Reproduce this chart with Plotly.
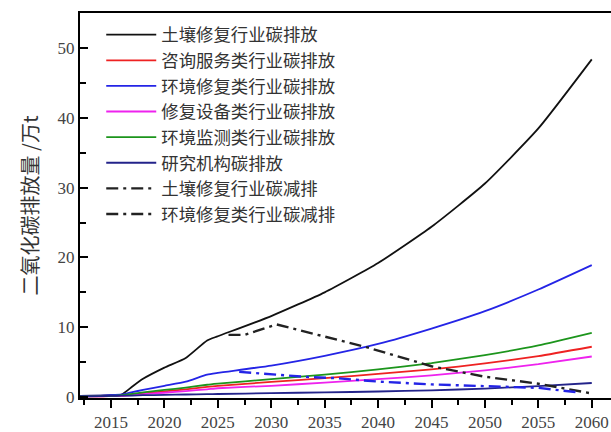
import plotly.graph_objects as go

# Years for the emission series
years = [2012, 2014, 2015, 2016, 2017, 2018, 2020, 2022, 2024, 2025,
         2030, 2035, 2040, 2045, 2050, 2055, 2060]

soil_emission = [0.15, 0.2, 0.25, 0.35, 1.5, 2.6, 4.2, 5.6, 8.1, 8.7,
                 11.6, 15.0, 19.2, 24.4, 30.6, 38.5, 48.4]
consult_emission = [0.1, 0.1, 0.15, 0.2, 0.35, 0.5, 0.8, 1.1, 1.45, 1.6,
                    2.15, 2.7, 3.3, 3.95, 4.8, 5.85, 7.2]
remed_emission = [0.15, 0.2, 0.25, 0.35, 0.7, 1.0, 1.6, 2.2, 3.2, 3.45,
                  4.5, 5.9, 7.6, 9.8, 12.3, 15.4, 18.9]
equip_emission = [0.1, 0.1, 0.12, 0.15, 0.25, 0.4, 0.6, 0.85, 1.1, 1.25,
                  1.6, 2.05, 2.55, 3.1, 3.8, 4.7, 5.8]
monitor_emission = [0.1, 0.12, 0.15, 0.25, 0.45, 0.65, 1.0, 1.35, 1.75, 1.9,
                    2.55, 3.2, 3.95, 4.85, 6.0, 7.4, 9.2]
research_emission = [0.1, 0.12, 0.15, 0.18, 0.2, 0.25, 0.3, 0.35, 0.4, 0.42,
                     0.55, 0.65, 0.78, 0.95, 1.2, 1.55, 2.0]

# Reduction scenarios
soil_cut_years = [2026, 2027.5, 2030.5, 2035, 2039, 2045, 2050, 2055, 2060]
soil_cut = [8.9, 8.9, 10.4, 8.6, 7.1, 4.4, 2.9, 1.9, 0.5]
remed_cut_years = [2027, 2030, 2033, 2036, 2040, 2045, 2050, 2055, 2058.5]
remed_cut = [3.6, 3.2, 2.9, 2.7, 2.2, 1.8, 1.6, 1.3, 0.7]

names = ["土壤修复行业碳排放", "咨询服务类行业碳排放", "环境修复类行业碳排放",
         "修复设备类行业碳排放", "环境监测类行业碳排放", "研究机构碳排放",
         "土壤修复行业碳减排", "环境修复类行业碳减排"]

x_ticks = [2015, 2020, 2025, 2030, 2035, 2040, 2045, 2050, 2055, 2060]
y_ticks = [0, 10, 20, 30, 40, 50]

DASHDOT = "12px,5px,3px,5px"

fig = go.Figure()

solid = [
    (soil_emission, "#111111"),
    (consult_emission, "#ee2222"),
    (remed_emission, "#2424e6"),
    (equip_emission, "#ee22ee"),
    (monitor_emission, "#1c951c"),
    (research_emission, "#23238a"),
]
for (vals, col), nm in zip(solid, names[:6]):
    fig.add_trace(go.Scatter(x=years, y=vals, name=nm, mode="lines",
                             line=dict(color=col, width=1.8, shape="spline", smoothing=0.5)))

fig.add_trace(go.Scatter(x=soil_cut_years, y=soil_cut, name=names[6], mode="lines",
                         line=dict(color="#222222", width=2.4, dash=DASHDOT)))
fig.add_trace(go.Scatter(x=remed_cut_years, y=remed_cut, name=names[7], mode="lines",
                         line=dict(color="#2424e6", width=2.4, dash=DASHDOT),
                         showlegend=False))
# legend entry for the second reduction line is drawn in black
fig.add_trace(go.Scatter(x=[None], y=[None], name=names[7], mode="lines",
                         line=dict(color="#222222", width=2.4, dash=DASHDOT)))

fig.update_layout(
    width=611, height=432,
    margin=dict(l=80, r=0, t=13, b=29),
    paper_bgcolor="white", plot_bgcolor="white",
    showlegend=True,
    legend=dict(x=0.04, y=0.99, xanchor="left", yanchor="top",
                bgcolor="rgba(0,0,0,0)", itemwidth=50,
                font=dict(family="Noto Sans CJK SC", size=17.4, color="#333333"),
                tracegroupgap=0),
    font=dict(family="Liberation Serif", color="#444444"),
)
fig.update_xaxes(range=[2012.1, 2061.8], tickvals=x_ticks, showgrid=False, zeroline=False,
                 showline=True, linecolor="black", linewidth=2, mirror=True,
                 ticks="outside", ticklen=8, tickwidth=2, tickcolor="black",
                 tickfont=dict(family="Liberation Serif", size=17, color="#444444"),
                 minor=dict(dtick=2.5, tick0=2012.5, ticks="outside", ticklen=5,
                            tickwidth=2, tickcolor="black"))
fig.update_yaxes(range=[-0.15, 55.05], tickvals=y_ticks, showgrid=False, zeroline=False,
                 showline=True, linecolor="black", linewidth=2,
                 ticks="inside", ticklen=8, tickwidth=2, tickcolor="black",
                 tickfont=dict(family="Liberation Serif", size=17, color="#444444"),
                 minor=dict(dtick=5, tick0=5, ticks="inside", ticklen=6,
                            tickwidth=2, tickcolor="black"),
                 title=dict(text="二氧化碳排放量 /万t", standoff=14,
                            font=dict(family="Noto Sans CJK SC", size=20, color="#333333")))

fig.write_html("out.html")
